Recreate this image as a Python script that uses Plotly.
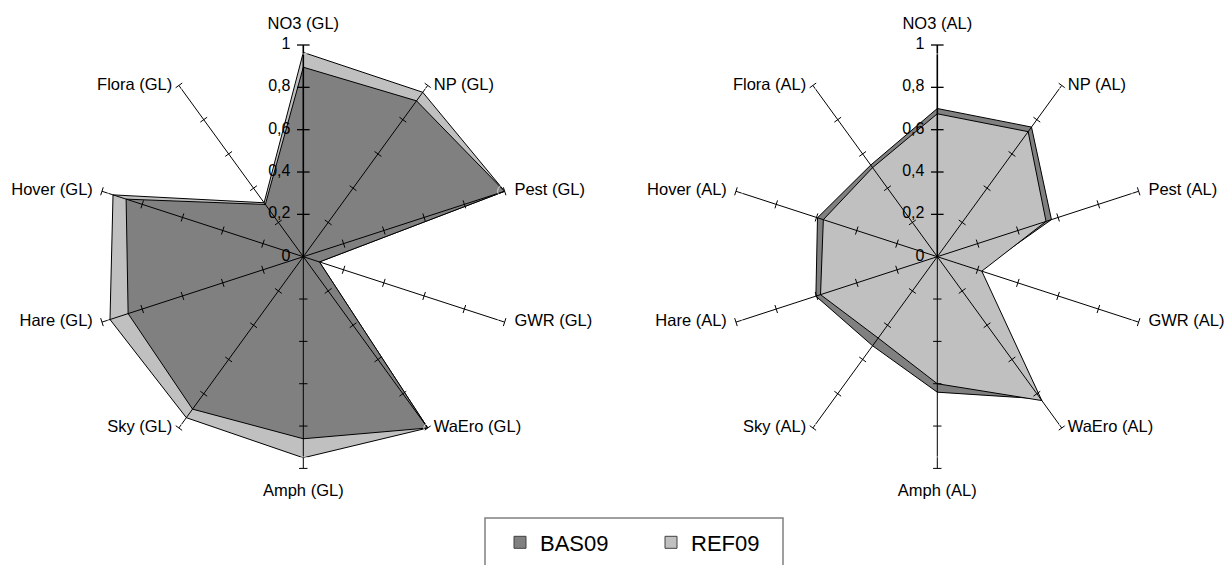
import plotly.graph_objects as go

# ---------------- data ----------------
indicators = ["NO3", "NP", "Pest", "GWR", "WaEro", "Amph", "Sky", "Hare", "Hover", "Flora"]
cats_gl = [f"{c} (GL)" for c in indicators]
cats_al = [f"{c} (AL)" for c in indicators]

bas_gl = [0.895, 0.91, 1.0, 0.08, 1.0, 0.86, 0.89, 0.87, 0.88, 0.305]
ref_gl = [0.965, 0.96, 1.0, 0.08, 1.0, 0.95, 0.94, 0.96, 0.945, 0.315]

bas_al = [0.70, 0.757, 0.567, 0.21, 0.83, 0.64, 0.52, 0.603, 0.595, 0.535]
ref_al = [0.675, 0.73, 0.54, 0.221, 0.84, 0.60, 0.475, 0.58, 0.566, 0.52]

tick_vals = [0, 0.2, 0.4, 0.6, 0.8, 1.0]
tick_text = ["0", "0,2", "0,4", "0,6", "0,8", "1"]

# label placement around the spokes (style only)
label_pos = ["top center", "middle right", "middle right", "middle right", "middle right",
             "bottom center", "middle left", "middle left", "middle left", "middle left"]
label_gap = [18, 8, 14, 14, 8, 23, 9, 13, 13, 9]

BAS_COLOR = "#808080"
REF_COLOR = "#C0C0C0"
FONT = "Liberation Sans, Arial, sans-serif"

W, H = 1229, 565
fig = go.Figure()


def closed(a):
    return list(a) + [a[0]]


def add_area(vals, cats, color, name, sub):
    fig.add_trace(go.Scatterpolar(
        r=closed(vals), theta=closed(cats), mode="lines", fill="toself",
        fillcolor=color, line=dict(color="black", width=1),
        name=name, showlegend=False, subplot=sub, hoverinfo="skip"))


def add_axes(cats, sub):
    # spokes
    for i, c in enumerate(cats):
        fig.add_trace(go.Scatterpolar(
            r=[0, 1], theta=[c, c], mode="lines",
            line=dict(color="black", width=1.6 if i == 0 else 1),
            showlegend=False, subplot=sub, hoverinfo="skip", cliponaxis=False))
    # tick marks on the spokes
    step = 360 / len(cats)
    for i, c in enumerate(cats):
        rr = tick_vals[1:]
        fig.add_trace(go.Scatterpolar(
            r=rr, theta=[c] * len(rr), mode="markers",
            marker=dict(symbol="line-ew", size=9 if i == 0 else 6, angle=i * step,
                        line=dict(color="black", width=1.3 if i == 0 else 1)),
            showlegend=False, subplot=sub, hoverinfo="skip", cliponaxis=False))
    # value labels along the first spoke
    fig.add_trace(go.Scatterpolar(
        r=tick_vals, theta=[cats[0]] * len(tick_vals), mode="markers+text",
        text=tick_text, textposition="middle left",
        textfont=dict(family=FONT, size=16, color="black"),
        marker=dict(size=19, color="rgba(0,0,0,0)"),
        showlegend=False, subplot=sub, hoverinfo="skip", cliponaxis=False))
    # category labels at the spoke ends
    fig.add_trace(go.Scatterpolar(
        r=[1] * len(cats), theta=cats, mode="markers+text",
        text=cats, textposition=label_pos,
        textfont=dict(family=FONT, size=16.5, color="black"),
        marker=dict(size=label_gap, color="rgba(0,0,0,0)"),
        showlegend=False, subplot=sub, hoverinfo="skip", cliponaxis=False))


# left chart: REF below, BAS on top
add_area(ref_gl, cats_gl, REF_COLOR, "REF09", "polar")
add_area(bas_gl, cats_gl, BAS_COLOR, "BAS09", "polar")
add_axes(cats_gl, "polar")

# right chart: BAS below, REF on top
add_area(bas_al, cats_al, BAS_COLOR, "BAS09", "polar2")
add_area(ref_al, cats_al, REF_COLOR, "REF09", "polar2")
add_axes(cats_al, "polar2")

# legend entries
for name, col in [("BAS09", BAS_COLOR), ("REF09", REF_COLOR)]:
    fig.add_trace(go.Scatterpolar(
        r=[None], theta=[cats_gl[0]], mode="markers", name=name,
        marker=dict(symbol="square", size=12, color=col, line=dict(color="#404040", width=1)),
        subplot="polar", showlegend=True))

R = 211.7
cy = 256.7


def dom(cx):
    return dict(x=[(cx - R) / W, (cx + R) / W], y=[1 - (cy + R) / H, 1 - (cy - R) / H])


def polar_layout(cx):
    return dict(
        domain=dom(cx),
        bgcolor="rgba(0,0,0,0)",
        angularaxis=dict(
            type="category", rotation=90, direction="clockwise",
            showgrid=False, showline=False, showticklabels=False, ticks="",
        ),
        radialaxis=dict(
            range=[0, 1], angle=90, showticklabels=False, ticks="",
            showgrid=False, showline=False,
        ),
    )


fig.update_layout(
    width=W, height=H,
    margin=dict(l=0, r=0, t=0, b=0),
    paper_bgcolor="white", plot_bgcolor="white",
    polar=polar_layout(303.3),
    polar2=polar_layout(937.3),
    showlegend=True,
    legend=dict(
        orientation="h", x=500 / W, xanchor="left", y=1 - 521.5 / H, yanchor="top",
        borderwidth=0, bgcolor="rgba(0,0,0,0)",
        font=dict(family=FONT, size=22, color="black"),
        entrywidth=106, itemsizing="trace",
    ),
    shapes=[dict(type="rect", xref="paper", yref="paper",
                 x0=485 / W, x1=783 / W, y0=-0.1, y1=1 - 518 / H,
                 line=dict(color="#808080", width=1.5), fillcolor="rgba(0,0,0,0)")],
    font=dict(family=FONT),
)

fig.write_html("out.html", config={"displayModeBar": False},
               post_script="document.body.style.margin='0';")
